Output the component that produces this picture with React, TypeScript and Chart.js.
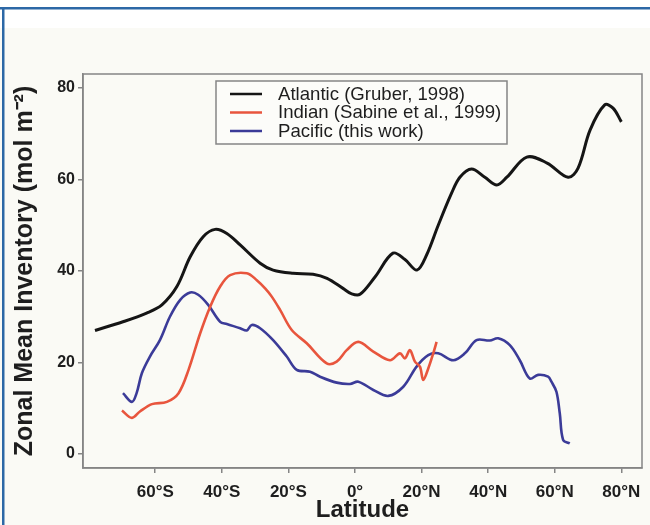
import { useEffect, useRef } from "react";
import { Chart, registerables } from "chart.js";

Chart.register(...registerables);

// Zonal mean inventory (mol m^-2) against latitude (negative = south)
const atlanticLat = [-78.1, -69.7, -62.6, -58, -53.5, -49.5, -45.6, -42, -38.5, -34.5, -28.5, -24.6, -18.6, -12.6, -8.4, -3.6, -1, 1.5, 6, 11.4, 15, 18.6, 21.5, 25, 29, 31.5, 35, 39, 42.6, 45.6, 51.6, 57.7, 64, 67, 70.6, 75, 77.5, 80];
const atlanticInv = [27.0, 28.9, 30.8, 32.6, 36.6, 43.1, 47.5, 49.1, 48.2, 45.7, 41.7, 40.2, 39.5, 39.3, 38.4, 36.2, 35.0, 34.9, 38.7, 43.9, 42.5, 40.2, 43.5, 50.0, 57.0, 60.5, 62.3, 60.5, 58.8, 60.5, 64.9, 63.6, 60.5, 62.5, 70.8, 76.3, 75.6, 72.6];

const indianLat = [-70, -67, -64.6, -61, -56.5, -53, -50, -46.5, -43.5, -40.5, -37.5, -32.5, -29.5, -27, -25, -22.5, -19, -14.5, -8.5, -5.5, -2.5, 1, 5.5, 10.5, 13.5, 15, 16.5, 18, 19.5, 20.5, 22, 23.5, 24.5];
const indianInv = [9.5, 7.9, 9.3, 10.9, 11.4, 13.3, 18.4, 26.4, 32.2, 36.6, 39.1, 39.5, 38.0, 36.2, 34.4, 31.5, 27.1, 24.2, 19.8, 20.2, 22.7, 24.5, 22.4, 20.5, 22.0, 20.9, 22.7, 20.2, 19.1, 16.2, 18.7, 22.0, 24.5];

const pacificLat = [-69.7, -67, -65.6, -64, -61.6, -58.6, -55.6, -52.5, -49.5, -47.1, -44.1, -40.5, -38.5, -34.5, -32.5, -31, -28.5, -24.6, -20.5, -17.5, -13.5, -10.5, -5.5, -1.5, 1, 5.5, 10, 14.5, 18.5, 22, 25, 29.5, 33, 36.5, 40.5, 43, 46.5, 49.5, 52.5, 55, 58, 59, 60.5, 61.5, 62.5, 64.5];
const pacificInv = [13.3, 11.4, 13.3, 17.7, 21.3, 24.9, 30.0, 33.7, 35.3, 34.8, 32.6, 28.9, 28.4, 27.5, 27.0, 28.2, 27.5, 24.9, 21.3, 18.4, 18.0, 16.9, 15.6, 15.3, 15.8, 14.0, 12.7, 14.7, 19.1, 21.6, 22.0, 20.5, 22.0, 24.9, 24.8, 25.3, 23.8, 20.5, 16.5, 17.3, 16.9, 15.8, 13.6, 8.9, 3.1, 2.3];

const seriesNames = ["Atlantic (Gruber, 1998)", "Indian (Sabine et al., 1999)", "Pacific (this work)"];
const seriesColors = ["#151515", "#e8553d", "#3b3b98"];

const latTicks = [-60, -40, -20, 0, 20, 40, 60, 80];
const latTickLabels = ["60°S", "40°S", "20°S", "0°", "20°N", "40°N", "60°N", "80°N"];
const invTicks = [0, 20, 40, 60, 80];

const FONT = "'Liberation Sans', Arial, Helvetica, sans-serif";
const AXIS_GREY = "#858585";
const TEXT = "#1e1e1e";

const toPoints = (xs: number[], ys: number[]) => xs.map((x, i) => ({ x, y: ys[i] }));

// Page frame: off-white sheet with a blue rule along the top and left
const framePlugin = {
  id: "frame",
  beforeDraw(chart: any) {
    const { ctx, width, height } = chart;
    ctx.save();
    ctx.fillStyle = "#fafaf5";
    ctx.fillRect(0, 0, width, height);
    ctx.fillStyle = "#ffffff";
    ctx.fillRect(0, 0, width, 28);
    ctx.fillStyle = "#2c68a6";
    ctx.fillRect(0, 7, width, 2.5);
    ctx.fillRect(2, 7, 2.5, height - 7);
    ctx.restore();
  },
};

// Box around the whole plotting area
const plotBoxPlugin = {
  id: "plotBox",
  afterDraw(chart: any) {
    const { ctx, chartArea: a } = chart;
    ctx.save();
    ctx.strokeStyle = AXIS_GREY;
    ctx.lineWidth = 1.5;
    ctx.strokeRect(a.left, a.top, a.right - a.left, a.bottom - a.top);
    ctx.restore();
  },
};

// Boxed legend inside the plot, listing each dataset
const boxLegendPlugin = {
  id: "boxLegend",
  afterDraw(chart: any) {
    const { ctx } = chart;
    const left = 216, top = 81, w = 291, h = 63;
    ctx.save();
    ctx.fillStyle = "#fcfcf9";
    ctx.fillRect(left, top, w, h);
    ctx.strokeStyle = AXIS_GREY;
    ctx.lineWidth = 1.5;
    ctx.strokeRect(left, top, w, h);
    ctx.font = `18.6px ${FONT}`;
    ctx.textBaseline = "middle";
    ctx.textAlign = "left";
    chart.data.datasets.forEach((ds: any, i: number) => {
      const y = top + 13 + i * 18.5;
      ctx.strokeStyle = ds.borderColor;
      ctx.lineWidth = 2.5;
      ctx.beginPath();
      ctx.moveTo(left + 14, y);
      ctx.lineTo(left + 46, y);
      ctx.stroke();
      ctx.fillStyle = TEXT;
      ctx.fillText(ds.label, left + 62, y + 0.5);
    });
    ctx.restore();
  },
};

export default function App() {
  const canvasRef = useRef<HTMLCanvasElement | null>(null);

  useEffect(() => {
    const canvas = canvasRef.current;
    if (!canvas) return;
    const line = (i: number, xs: number[], ys: number[], width: number) => ({
      label: seriesNames[i],
      data: toPoints(xs, ys),
      borderColor: seriesColors[i],
      backgroundColor: seriesColors[i],
      borderWidth: width,
      pointRadius: 0,
      tension: 0.35,
      fill: false,
    });

    const chart = new Chart(canvas, {
      type: "line",
      data: {
        datasets: [
          line(0, atlanticLat, atlanticInv, 3),
          line(1, indianLat, indianInv, 2.6),
          line(2, pacificLat, pacificInv, 2.6),
        ],
      },
      options: {
        animation: false,
        responsive: false,
        devicePixelRatio: 1,
        layout: { padding: { left: 0, right: 8, top: 74, bottom: 0 } },
        plugins: {
          legend: { display: false },
          tooltip: { enabled: false },
        },
        scales: {
          x: {
            type: "linear",
            min: -81.7,
            max: 86.2,
            afterBuildTicks: (scale: any) => {
              scale.ticks = latTicks.map((value) => ({ value }));
            },
            afterFit: (scale: any) => {
              scale.height = 57;
            },
            grid: { drawOnChartArea: false, drawTicks: true, tickLength: 5, color: AXIS_GREY, lineWidth: 1.5 },
            border: { display: true, color: AXIS_GREY, width: 1.5 },
            ticks: {
              autoSkip: false,
              maxRotation: 0,
              padding: 9,
              color: TEXT,
              font: { family: FONT, size: 17, weight: "bold" },
              callback: (v: any) => {
                const k = latTicks.indexOf(Number(v));
                return k >= 0 ? latTickLabels[k] : "";
              },
            },
            title: {
              display: true,
              text: "Latitude",
              color: TEXT,
              padding: 0,
              font: { family: FONT, size: 24, weight: "bold" },
            },
          },
          y: {
            type: "linear",
            min: -3.06,
            max: 83.06,
            afterBuildTicks: (scale: any) => {
              scale.ticks = invTicks.map((value) => ({ value }));
            },
            afterFit: (scale: any) => {
              scale.width = 83;
            },
            grid: { drawOnChartArea: false, drawTicks: true, tickLength: 5, color: AXIS_GREY, lineWidth: 1.5 },
            border: { display: true, color: AXIS_GREY, width: 1.5 },
            ticks: {
              padding: 3,
              color: TEXT,
              font: { family: FONT, size: 16, weight: "bold" },
              callback: (v: any) => String(v),
            },
            title: {
              display: true,
              text: "Zonal Mean Inventory (mol m⁻²)",
              color: TEXT,
              padding: { top: 10, bottom: 0 },
              font: { family: FONT, size: 25, weight: "bold" },
            },
          },
        },
      },
      plugins: [framePlugin, plotBoxPlugin, boxLegendPlugin],
    } as any);

    return () => chart.destroy();
  }, []);

  return (
    <div style={{ position: "fixed", left: 0, top: 0, width: 650, height: 525 }}>
      <canvas ref={canvasRef} width={650} height={525} style={{ display: "block" }} />
    </div>
  );
}
